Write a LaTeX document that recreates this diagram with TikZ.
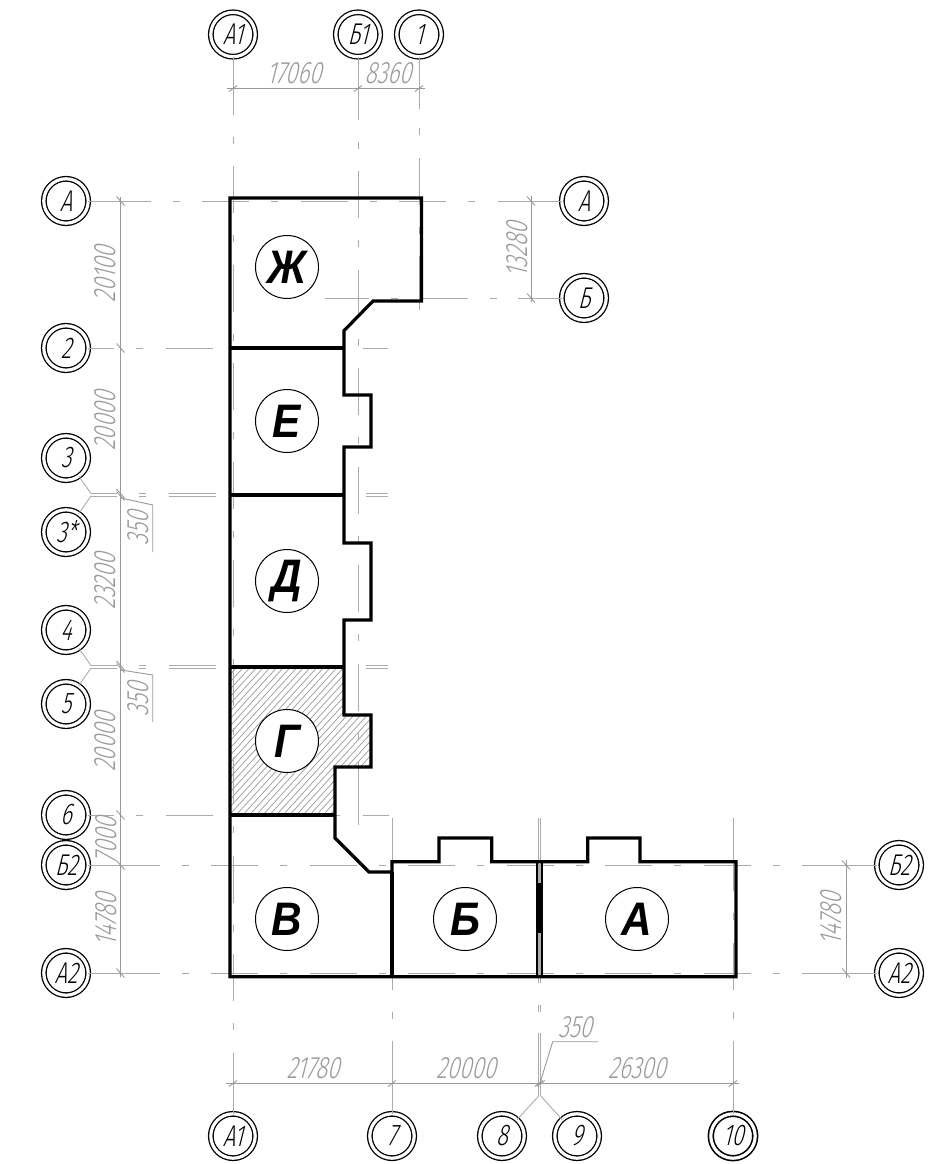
\documentclass[tikz,border=0pt]{standalone}
\usepackage{fontspec}
\newfontfamily\thinfont[FakeSlant=.25,FakeStretch=.72]{Fira Sans Light}
\newfontfamily\roomfont[FakeStretch=.9]{Liberation Sans}
\definecolor{axisgray}{HTML}{ABABAB}
\definecolor{dimgray}{HTML}{999999}
\tikzset{
  axisbub/.style={circle,draw,double,double distance=3.2pt,line width=1.3pt,minimum size=44.4pt,inner sep=0pt,outer sep=0pt,font=\thinfont\fontsize{30}{30}\selectfont},
  roombub/.style={circle,draw,fill=white,line width=1pt,minimum size=63pt,inner sep=0pt,font=\roomfont\bfseries\itshape\fontsize{47}{47}\selectfont},
  axisline/.style={draw=axisgray,line width=.9pt,dash pattern=on 47pt off 22pt on 7pt off 22.5pt},
  axislead/.style={draw=axisgray,line width=.9pt},
  dimline/.style={draw=dimgray,line width=.9pt},
  dimtext/.style={text=dimgray,inner sep=0pt,font=\thinfont\fontsize{31}{31}\selectfont},
  hatchline/.style={draw=dimgray,line width=.7pt},
  wall/.style={draw,line width=3.2pt,line join=miter},
  thickwall/.style={draw,line width=4.8pt}
}
\begin{document}
\begin{tikzpicture}[x=1pt,y=-1pt]
\useasboundingbox (0,0) rectangle (945,1164);
% axis bubbles
\foreach \n/\t/\x/\y in {tA1/A1/233/34.5,tB1/Б1/358/34.5,t1/1/419/34.5,
    lA/A/66/201,l2/2/66/348,l3/3/66/458,l3s/3*/66/532,l4/4/66/630,l5/5/66/704,l6/6/66/815,lB2/Б2/66/865,lA2/A2/66/973,
    rA/A/584/201,rB/Б/584/298,rB2/Б2/899/865,rA2/A2/899/973,
    bA1/A1/233/1136,b7/7/392/1136,b8/8/502/1136,b9/9/577/1136}
  \node[axisbub] (\n) at (\x,\y) {\t};
\node[axisbub,line width=1.6pt] (b10) at (733,1136) {10};
% free ends of the axes
\foreach \n/\x/\y in {e1/419/310,eB1/358/825,e7/392/818,e8/538.8/818,e9/540.8/818,e10/733/818,
    eB/325/298,r2/388/348,r3/388/493.5,r3s/388/496,r4/388/665.5,r5/388/668,r6/389/815,
    w3/91/493.5,w3s/91/496,w4/91/665.5,w5/91/668,w8/538.8/1096,w9/540.8/1096}
  \coordinate (\n) at (\x,\y);
% hatched section
\begin{scope}
\clip (230,667) -- (344,667) -- (344,715) -- (371,715) -- (371,767) -- (335,767) -- (335,815) -- (230,815) -- cycle;
\foreach \k in {0,...,45}
  \draw[hatchline] (75+\k*6.7,830) -- ++(155,-170);
\end{scope}
% axes, horizontal
\draw[axisline,dash phase=83pt] (lA) -- (rA);
\draw[axislead] (lA) -- (105,201) (498,201) -- (rA);
\draw[axisline,dash phase=3pt] (eB) -- (rB);
\draw[axislead] (518,298) -- (rB);
\draw[axisline,dash phase=21pt] (l2) -- (r2);
\draw[axisline,dash phase=21pt] (w3) -- (r3);
\draw[axisline,dash phase=21pt] (w3s) -- (r3s);
\draw[axisline,dash phase=21pt] (w4) -- (r4);
\draw[axisline,dash phase=21pt] (w5) -- (r5);
\draw[axisline,dash phase=21pt] (l6) -- (r6);
\draw[axisline,dash phase=74pt] (lB2) -- (rB2);
\draw[axislead] (lB2) -- (115,865) (804,865) -- (rB2);
\draw[axisline,dash phase=74pt] (lA2) -- (rA2);
\draw[axislead] (lA2) -- (115,973) (804,973) -- (rA2);
\draw[axislead] (l3) -- (w3) (l3s) -- (w3s) (l4) -- (w4) (l5) -- (w5);
% axes, vertical
\draw[axisline,dash phase=87.5pt] (tA1) -- (bA1);
\draw[axislead] (tA1) -- (233,70) (233,1055) -- (bA1);
\draw[axisline,dash phase=82.5pt] (tB1) -- (eB1);
\draw[axislead] (tB1) -- (358,75) (358,763) -- (eB1);
\draw[axisline,dash phase=96pt] (t1) -- (e1);
\draw[axislead] (419,258) -- (e1) (t1) -- (419,109);
\draw[axisline,dash phase=72.5pt] (e7) -- (b7);
\draw[axislead] (e7) -- (392,844) (392,1041) -- (b7);
\draw[axisline,dash phase=79pt] (e8) -- (w8);
\draw[axisline,dash phase=79pt] (e9) -- (w9);
\draw[axislead] (e8) -- (538.8,838) (e9) -- (540.8,838) (538.8,1033) -- (w8) (540.8,1033) -- (w9);
\draw[axisline,dash phase=72.5pt] (e10) -- (b10);
\draw[axislead] (e10) -- (733,844) (733,1041) -- (b10);
\draw[axislead] (b8) -- (w8) (b9) -- (w9);
% dimension lines
\draw[dimline] (120.5,197) -- (120.5,977);
\draw[dimline] (227,88.5) -- (425,88.5);
\draw[dimline] (226,1083.5) -- (739,1083.5);
\draw[dimline] (531,196) -- (531,302);
\draw[dimline] (846,860) -- (846,978);
\foreach \y in {201,348,493.5,496,665.5,668,815,865,973}
  \draw[dimline] (120.5,\y) ++(-4,-4.5) -- ++(8,9);
\foreach \y in {201,298}
  \draw[dimline] (531,\y) ++(-4,-4.5) -- ++(8,9);
\foreach \y in {865,973}
  \draw[dimline] (846,\y) ++(-4,-4.5) -- ++(8,9);
\foreach \x in {233,358,419}
  \draw[dimline] (\x,88.5) ++(-4,3) -- ++(8,-6);
\foreach \x in {233,392,538.8,540.8,733}
  \draw[dimline] (\x,1083.5) ++(-4,3) -- ++(8,-6);
% 350 leaders
\draw[dimline] (121,498) -- (152.7,505) -- (152.7,552);
\draw[dimline] (121,670) -- (152.7,675) -- (152.7,722);
\draw[dimline] (540,1083) -- (552.7,1041.7) -- (598,1041.7);
% dimension texts
\foreach \n/\t/\x/\y in {d1/17060/294/73,d2/8360/388/73,d3/21780/313/1068,d4/20000/466/1068,d5/26300/637/1068,d6/350/575/1027}
  \node[dimtext] (\n) at (\x,\y) {\t};
\foreach \n/\t/\x/\y in {v1/20100/105/274,v2/20000/105/421,v3/23200/105/581,v4/20000/105/742,v5/7000/106/840,v6/14780/106/920,
    v7/350/138/528,v8/350/138/699,v9/13280/517/250,v10/14780/831/919}
  \node[dimtext,rotate=90] (\n) at (\x,\y) {\t};
% building
\draw[wall] (230,198) -- (421.5,198) -- (421.5,301) -- (373,301) -- (344,330.7) -- (344,395) -- (371,395) -- (371,447)
  -- (344,447) -- (344,543) -- (371,543) -- (371,620) -- (344,620) -- (344,715) -- (371,715) -- (371,767) -- (335,767)
  -- (335,838) -- (369,872) -- (392,872) -- (392,861.7) -- (439,861.7) -- (439,838) -- (491.7,838) -- (491.7,861.7)
  -- (587.7,861.7) -- (587.7,838) -- (640,838) -- (640,861.7) -- (736,861.7) -- (736,976.7) -- (230,976.7) -- cycle;
\draw[wall] (230,348) -- (344,348);
\draw[thickwall] (230,495) -- (344,495);
\draw[thickwall] (230,667) -- (344,667);
\draw[wall] (230,815) -- (335,815);
\draw[wall] (392,872) -- (392,976.7);
\draw[draw=axisgray,line width=2.4pt] (539.5,864) -- (539.5,975);
\draw[line width=2pt] (537.4,861) -- (537.4,977);
\draw[line width=2pt] (541.6,861) -- (541.6,977);
\draw[line width=5.4pt] (539.5,883) -- (539.5,933);
% sections
\foreach \n/\t/\x/\y in {sZh/Ж/287/267,sE/Е/287/421,sD/Д/287/581,sG/Г/287/741,sV/В/287/919,sB/Б/465/919,sA/А/637/919}
  \node[roombub] (\n) at (\x,\y) {\t};
\end{tikzpicture}
\end{document}
